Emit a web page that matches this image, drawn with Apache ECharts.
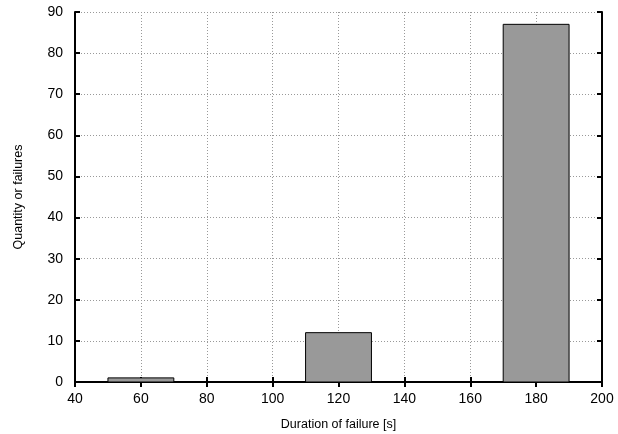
<!DOCTYPE html>
<html>
<head>
<meta charset="utf-8">
<script src="https://cdn.jsdelivr.net/npm/echarts@6/dist/echarts.min.js"></script>
<style>
  html, body { margin: 0; padding: 0; background: #fff; }
  #chart { width: 618px; height: 434px; }
</style>
</head>
<body>
<div id="chart"></div>
<script>
const binCenters = [60, 120, 180]
const failureCounts = [1, 12, 87]
const binWidth = 20

const chart = echarts.init(document.getElementById('chart'))

const font = 'Liberation Sans, Arial, sans-serif'
const axisLine = { show: true, lineStyle: { color: '#000', width: 2 } }
const axisTick = { show: true, inside: true, length: 5, lineStyle: { color: '#000', width: 2 } }
const splitLine = { show: true, lineStyle: { color: '#999', type: [1, 2], width: 1 } }

chart.setOption({
  animation: false,
  grid: { left: 75, right: 16, top: 12, bottom: 52, outerBoundsMode: 'none' },
  xAxis: [{
    type: 'value',
    min: 40,
    max: 200,
    interval: 20,
    name: 'Duration of failure [s]',
    nameLocation: 'middle',
    nameGap: 36,
    nameTextStyle: { color: '#000', fontSize: 12.5, fontFamily: font },
    axisLine,
    axisTick,
    axisLabel: { color: '#000', fontSize: 14, fontFamily: font, margin: 10 },
    splitLine
  }, {
    type: 'value',
    position: 'top',
    min: 40,
    max: 200,
    interval: 20,
    axisLine,
    axisTick,
    axisLabel: { show: false },
    splitLine: { show: false }
  }],
  yAxis: [{
    type: 'value',
    min: 0,
    max: 90,
    interval: 10,
    name: 'Quantity or failures',
    nameLocation: 'middle',
    nameGap: 50,
    nameTextStyle: { color: '#000', fontSize: 12.5, fontFamily: font },
    axisLine,
    axisTick,
    axisLabel: { color: '#000', fontSize: 14, fontFamily: font, margin: 12 },
    splitLine
  }, {
    type: 'value',
    position: 'right',
    min: 0,
    max: 90,
    interval: 10,
    axisLine,
    axisTick,
    axisLabel: { show: false },
    splitLine: { show: false }
  }],
  series: [{
    type: 'custom',
    data: binCenters.map((x, i) => [x, failureCounts[i]]),
    renderItem: (params, api) => {
      const x = api.value(0)
      const y = api.value(1)
      const p0 = api.coord([x - binWidth / 2, y])
      const p1 = api.coord([x + binWidth / 2, 0])
      return {
        type: 'rect',
        shape: { x: p0[0], y: p0[1], width: p1[0] - p0[0], height: p1[1] - p0[1] },
        style: { fill: '#999999', stroke: '#000', lineWidth: 1 }
      }
    }
  }]
})
</script>
</body>
</html>
